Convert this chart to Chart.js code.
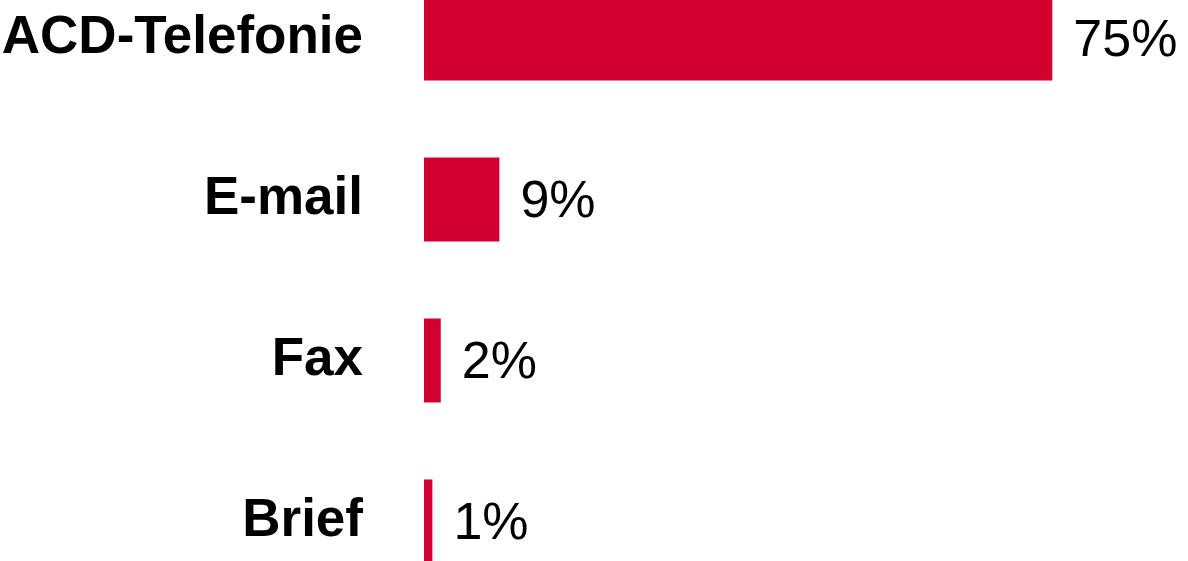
<!DOCTYPE html>
<html lang="de">
<head>
<meta charset="utf-8">
<title>Kontaktkanäle</title>
<script src="https://cdn.jsdelivr.net/npm/chart.js@4/dist/chart.umd.min.js"></script>
<style>
  html, body { margin: 0; padding: 0; background: #ffffff; overflow: hidden; }
  body { width: 1188px; height: 561px; position: relative; }
  #wrap { position: absolute; left: 0; top: -42px; width: 1188px; height: 644px; }
</style>
</head>
<body>
<div id="wrap"><canvas id="chart" width="1188" height="644"></canvas></div>
<script>
// Kanäle und Anteile in Prozent
const categories = ['ACD-Telefonie', 'E-mail', 'Fax', 'Brief'];
const shares = [75, 9, 2, 1];
const valueLabels = ['75%', '9%', '2%', '1%'];

const BAR_RED = '#d20030';
const FONT = '"Liberation Sans", Arial, Helvetica, sans-serif';

// Prozentwerte rechts neben den Balken
const valueLabelPlugin = {
  id: 'valueLabels',
  afterDatasetsDraw(chart) {
    const ctx = chart.ctx;
    const meta = chart.getDatasetMeta(0);
    ctx.save();
    ctx.fillStyle = '#000000';
    ctx.font = '52px ' + FONT;
    ctx.textAlign = 'left';
    ctx.textBaseline = 'middle';
    meta.data.forEach((bar, i) => {
      ctx.fillText(valueLabels[i], bar.x + 21, bar.y + 3);
    });
    ctx.restore();
  }
};

new Chart(document.getElementById('chart'), {
  type: 'bar',
  data: {
    labels: categories,
    datasets: [{
      data: shares,
      backgroundColor: BAR_RED,
      borderWidth: 0,
      categoryPercentage: 1,
      barPercentage: 0.522
    }]
  },
  options: {
    indexAxis: 'y',
    responsive: false,
    animation: false,
    devicePixelRatio: 1,
    layout: { padding: { left: 0, right: 10, top: 0, bottom: 0 } },
    plugins: {
      legend: { display: false },
      tooltip: { enabled: false }
    },
    scales: {
      x: {
        display: false,
        min: 0,
        max: 90
      },
      y: {
        grid: { display: false, drawTicks: false },
        border: { display: false },
        afterFit(scale) {
          // feste Achsenbreite, Kategorien füllen die volle Höhe
          scale.width = 424;
          scale.paddingTop = 0;
          scale.paddingBottom = 0;
        },
        ticks: {
          color: '#000000',
          padding: 61,
          font: { family: FONT, size: 53, weight: 'bold' }
        }
      }
    }
  },
  plugins: [valueLabelPlugin]
});
</script>
</body>
</html>
